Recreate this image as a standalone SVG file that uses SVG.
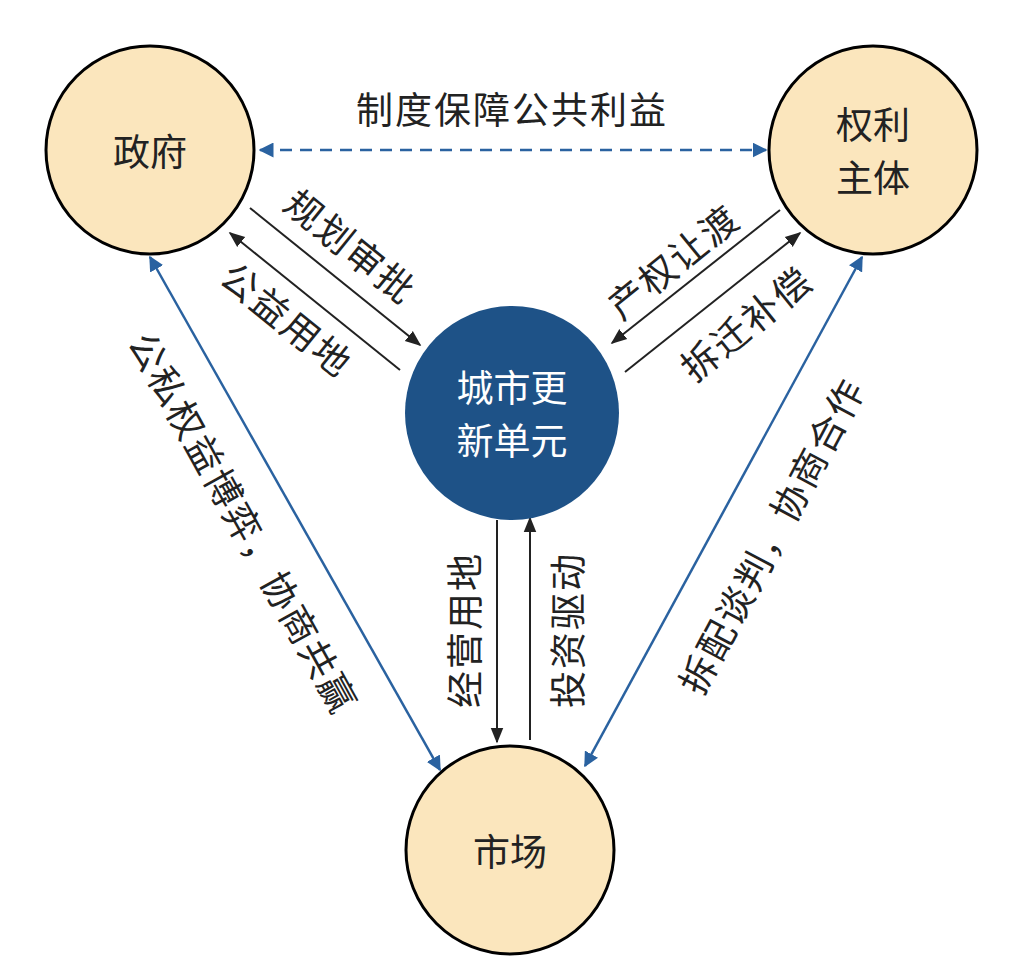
<svg xmlns="http://www.w3.org/2000/svg" width="1021" height="972" viewBox="0 0 1021 972">
<style>
text{font-family:"Noto Sans CJK SC","Noto Sans",sans-serif;text-anchor:middle;dominant-baseline:central}
.n{fill:#fbe6bd;stroke:#000;stroke-width:3}
.t{font-size:37px;fill:#222}
.l{font-size:37px;fill:#222;letter-spacing:2px}
.k{stroke:#222;stroke-width:2;fill:none}
.b{stroke:#2a62a0;stroke-width:2.5;fill:none}
</style>
<defs>
<marker id="ak" viewBox="0 0 10 10" refX="9" refY="5" markerWidth="8" markerHeight="8" orient="auto-start-reverse"><path d="M0,1 L10,5 L0,9 z" fill="#222"/></marker>
<marker id="ab" viewBox="0 0 10 10" refX="9" refY="5" markerWidth="6" markerHeight="6" orient="auto-start-reverse"><path d="M0,0 L10,5 L0,10 z" fill="#2a62a0"/></marker>
</defs>
<rect width="1021" height="972" fill="#fff"/>
<g id="connectors">
<line class="b" x1="260" y1="150" x2="766" y2="150" stroke-dasharray="12,8" marker-start="url(#ab)" marker-end="url(#ab)"/>
<line class="k" x1="250" y1="208" x2="420" y2="345" marker-end="url(#ak)"/>
<line class="k" x1="400" y1="370" x2="230" y2="233" marker-end="url(#ak)"/>
<line class="k" x1="780" y1="210" x2="612" y2="343" marker-end="url(#ak)"/>
<line class="k" x1="625" y1="372" x2="800" y2="233" marker-end="url(#ak)"/>
<line class="k" x1="497" y1="520" x2="497" y2="742" marker-end="url(#ak)"/>
<line class="k" x1="530" y1="740" x2="530" y2="518" marker-end="url(#ak)"/>
<line class="b" x1="150" y1="257" x2="440" y2="770" marker-start="url(#ab)" marker-end="url(#ab)"/>
<line class="b" x1="862" y1="257" x2="585" y2="766" marker-start="url(#ab)" marker-end="url(#ab)"/>
<text class="l" x="512" y="108">制度保障公共利益</text>
<text class="l" transform="translate(352,245) rotate(39)">规划审批</text>
<text class="l" transform="translate(288,318) rotate(39)">公益用地</text>
<text class="l" transform="translate(672,260) rotate(-39)">产权让渡</text>
<text class="l" transform="translate(745,322) rotate(-39)">拆迁补偿</text>
<text class="l" transform="translate(463,630) rotate(-90)">经营用地</text>
<text class="l" transform="translate(566,630) rotate(-90)">投资驱动</text>
<text class="l" transform="translate(245,522) rotate(61)">公私权益博弈，协商共赢</text>
<text class="l" transform="translate(770,535) rotate(-62)">拆配谈判，协商合作</text>
</g>
<g id="gov"><circle class="n" cx="150" cy="150" r="104"/><text class="t" x="150" y="150">政府</text></g>
<g id="owner"><circle class="n" cx="873" cy="150" r="104"/><text class="t" x="873" y="123">权利</text><text class="t" x="873" y="176">主体</text></g>
<g id="market"><circle class="n" cx="510" cy="850" r="104"/><text class="t" x="510" y="850">市场</text></g>
<g id="unit"><circle cx="512" cy="413" r="107" fill="#1e5287"/><text class="t" x="512" y="386" style="fill:#fff">城市更</text><text class="t" x="512" y="439" style="fill:#fff">新单元</text></g>
</svg>
